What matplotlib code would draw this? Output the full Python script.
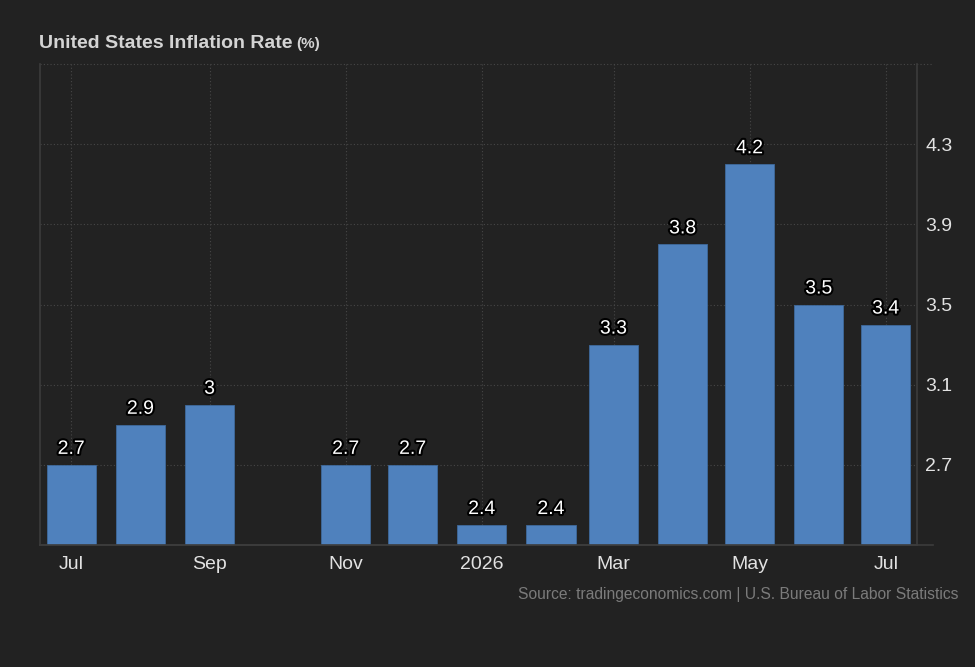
import matplotlib

matplotlib.use("Agg")
import matplotlib.pyplot as plt
import matplotlib.patheffects as pe
from datetime import date

# monthly CPI yoy, October 2025 has no release
months = [date(2025, 7, 1), date(2025, 8, 1), date(2025, 9, 1),
          date(2025, 11, 1), date(2025, 12, 1), date(2026, 1, 1),
          date(2026, 2, 1), date(2026, 3, 1), date(2026, 4, 1),
          date(2026, 5, 1), date(2026, 6, 1), date(2026, 7, 1)]
rates = [2.7, 2.9, 3.0, 2.7, 2.7, 2.4, 2.4, 3.3, 3.8, 4.2, 3.5, 3.4]
rate_labels = ["2.7", "2.9", "3", "2.7", "2.7", "2.4", "2.4", "3.3", "3.8", "4.2", "3.5", "3.4"]

tick_dates = [date(2025, 7, 1), date(2025, 9, 1), date(2025, 11, 1),
              date(2026, 1, 1), date(2026, 3, 1), date(2026, 5, 1), date(2026, 7, 1)]
tick_names = ["Jul", "Sep", "Nov", "2026", "Mar", "May", "Jul"]
y_ticks = [2.7, 3.1, 3.5, 3.9, 4.3]

bg = "#222222"
bar_color = "#4f81bd"
line_col = "#3c3c3c"
grid_col = "#474747"

plt.rcParams["font.family"] = ["Liberation Sans", "DejaVu Sans"]

fig = plt.figure(figsize=(9.75, 6.67), dpi=100, facecolor=bg)
W, H = 975, 667
ax = fig.add_axes([40 / W, 1 - 545 / H, (917 - 40) / W, (545 - 64) / H])
ax.set_facecolor(bg)

ax.bar(months, rates, width=22, color=bar_color, edgecolor="#3f6a9c", linewidth=0.6, zorder=3)

for d, v, s in zip(months, rates, rate_labels):
    ax.annotate(s, (d, v), xytext=(0, 5), textcoords="offset points",
                ha="center", va="bottom", color="white", fontsize=14, zorder=4,
                path_effects=[pe.withStroke(linewidth=3, foreground="black")])

ax.set_xlim(date(2025, 6, 17), date(2026, 7, 15))
ax.set_ylim(2.3, 4.7)
ax.set_xticks(tick_dates)
ax.set_xticklabels(tick_names)
ax.yaxis.tick_right()
ax.set_yticks(y_ticks)
ax.set_yticklabels([str(t) for t in y_ticks])
ax.tick_params(axis="both", length=0, colors="#e2e2e2", labelsize=14)
ax.tick_params(axis="x", pad=8)
ax.tick_params(axis="y", pad=6)

ax.grid(True, color=grid_col, linestyle=(0, (1, 2)), linewidth=0.8, zorder=0)
ax.axhline(4.7, xmin=0, xmax=(933 - 40) / (917 - 40), color=grid_col,
           linestyle=(0, (1, 2)), linewidth=0.8, clip_on=False)
ax.axhline(2.3, xmin=0, xmax=(933 - 40) / (917 - 40), color=line_col,
           linewidth=1.2, clip_on=False, zorder=5)

ax.spines["top"].set_visible(False)
for side in ["left", "right", "bottom"]:
    ax.spines[side].set_color(line_col)
    ax.spines[side].set_linewidth(1.2)

fig.text(39 / W, 1 - 43 / H, "United States Inflation Rate", fontsize=14,
         fontweight="bold", color="#d4d4d4", va="center")
fig.text(296 / W, 1 - 44 / H, "(%)", fontsize=11, fontweight="bold",
         color="#d4d4d4", va="center")
fig.text(958 / W, 1 - 595 / H, "Source: tradingeconomics.com | U.S. Bureau of Labor Statistics",
         fontsize=11.25, color="#7b7b7b", ha="right", va="center")

fig.savefig("out.png", dpi=100, facecolor=bg)
